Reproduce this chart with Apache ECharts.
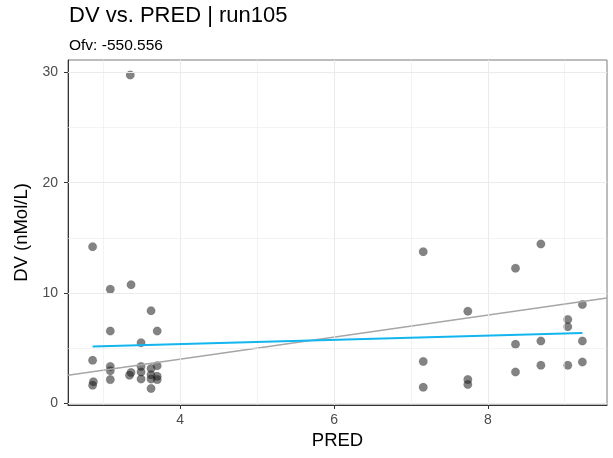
<!DOCTYPE html>
<html>
<head>
<meta charset="utf-8">
<script src="https://cdn.jsdelivr.net/npm/echarts@6/dist/echarts.min.js"></script>
<style>
html,body{margin:0;padding:0;background:#fff;}
#chart{width:613px;height:458px;}
</style>
</head>
<body>
<div id="chart"></div>
<script>
// ---- data ----
var predValues = [
  2.86, 2.86, 2.87, 2.86,
  3.09, 3.09, 3.09, 3.09, 3.09,
  3.35, 3.36, 3.36, 3.34,
  3.49, 3.49, 3.49, 3.49,
  3.62, 3.62, 3.62, 3.62, 3.62,
  3.70, 3.70, 3.70, 3.70,
  7.16, 7.16, 7.16,
  7.74, 7.74, 7.74,
  8.36, 8.36, 8.36,
  8.69, 8.69, 8.69,
  9.04, 9.04, 9.04,
  9.23, 9.23, 9.23
];
var dvValues = [
  14.2, 3.9, 1.95, 1.65,
  10.35, 6.55, 3.35, 2.95, 2.15,
  29.75, 10.75, 2.8, 2.55,
  5.5, 3.35, 2.85, 2.2,
  8.4, 3.15, 2.6, 2.2, 1.35,
  6.55, 3.4, 2.45, 2.15,
  13.75, 3.8, 1.45,
  8.35, 2.15, 1.7,
  12.25, 5.35, 2.85,
  14.45, 5.65, 3.45,
  7.6, 6.95, 3.45,
  8.95, 5.65, 3.75
];
var smoothX = [2.86, 9.23];
var smoothY = [5.15, 6.38];
var xLimits = [2.54, 9.55];
var yLimits = [-0.15, 31.12];
var xTickLabels = [4, 6, 8];
var yTickLabels = [0, 10, 20, 30];
var xMinorGrid = [3, 5, 7, 9];
var yMinorGrid = [5, 15, 25];
var titleText = 'DV vs. PRED | run105';
var subtitleText = 'Ofv: -550.556';
var xTitle = 'PRED';
var yTitle = 'DV (nMol/L)';

// ---- build options ----
var points = predValues.map(function (x, i) { return [x, dvValues[i]]; });
var smooth = smoothX.map(function (x, i) { return [x, smoothY[i]]; });
var identity = [[xLimits[0], xLimits[0]], [xLimits[1], xLimits[1]]];

var gridLines = [];
xTickLabels.forEach(function (v) { gridLines.push({ xAxis: v, lineStyle: { width: 1.1 } }); });
xMinorGrid.forEach(function (v) { gridLines.push({ xAxis: v, lineStyle: { width: 0.6 } }); });
yTickLabels.forEach(function (v) { gridLines.push({ yAxis: v, lineStyle: { width: 1.1 } }); });
yMinorGrid.forEach(function (v) { gridLines.push({ yAxis: v, lineStyle: { width: 0.6 } }); });

var FONT = '"Liberation Sans", Arial, sans-serif';

var chart = echarts.init(document.getElementById('chart'), null, { renderer: 'canvas' });
chart.setOption({
  animation: false,
  backgroundColor: '#ffffff',
  textStyle: { fontFamily: FONT },
  title: [
    { text: titleText, left: 64, top: 0, textStyle: { fontFamily: FONT, fontSize: 22, fontWeight: 'normal', color: '#000' } },
    { text: subtitleText, left: 64, top: 33, textStyle: { fontFamily: FONT, fontSize: 15.5, fontWeight: 'normal', color: '#000' } }
  ],
  grid: { left: 68, right: 6, top: 60, bottom: 53, show: true, borderColor: '#7a7a7a', borderWidth: 1, backgroundColor: 'transparent' },
  xAxis: {
    type: 'value', min: xLimits[0], max: xLimits[1],
    name: xTitle, nameLocation: 'middle', nameGap: 25,
    nameTextStyle: { fontFamily: FONT, fontSize: 18.5, color: '#000' },
    axisLine: { show: true, onZero: false, lineStyle: { color: '#333', width: 1 } },
    axisTick: { show: true, length: 4, customValues: xTickLabels, lineStyle: { color: '#333' } },
    axisLabel: { customValues: xTickLabels, margin: 8, fontFamily: FONT, fontSize: 14, color: '#4d4d4d' },
    splitLine: { show: false }
  },
  yAxis: {
    type: 'value', min: yLimits[0], max: yLimits[1],
    name: yTitle, nameLocation: 'middle', nameGap: 35, nameRotate: 90,
    nameTextStyle: { fontFamily: FONT, fontSize: 18.5, color: '#000' },
    axisLine: { show: true, onZero: false, lineStyle: { color: '#333', width: 1 } },
    axisTick: { show: true, length: 4, customValues: yTickLabels, lineStyle: { color: '#333' } },
    axisLabel: { customValues: yTickLabels, margin: 10, fontFamily: FONT, fontSize: 14, color: '#4d4d4d' },
    splitLine: { show: false }
  },
  series: [
    {
      type: 'line', data: [], silent: true, z: 0,
      markLine: {
        silent: true, symbol: 'none', label: { show: false }, animation: false,
        lineStyle: { color: '#ebebeb', type: 'solid' },
        data: gridLines
      }
    },
    {
      type: 'scatter', data: points, symbolSize: 8.5, z: 3,
      itemStyle: { color: 'rgba(25,25,25,0.68)', borderColor: 'rgba(20,20,20,0.25)', borderWidth: 0.5 }
    },
    {
      type: 'line', data: identity, showSymbol: false, symbol: 'none', z: 4,
      lineStyle: { color: '#a6a6a6', width: 1.6 }
    },
    {
      type: 'line', data: smooth, showSymbol: false, symbol: 'none', z: 5,
      lineStyle: { color: '#12b5ee', width: 2 }
    }
  ]
});
</script>
</body>
</html>
